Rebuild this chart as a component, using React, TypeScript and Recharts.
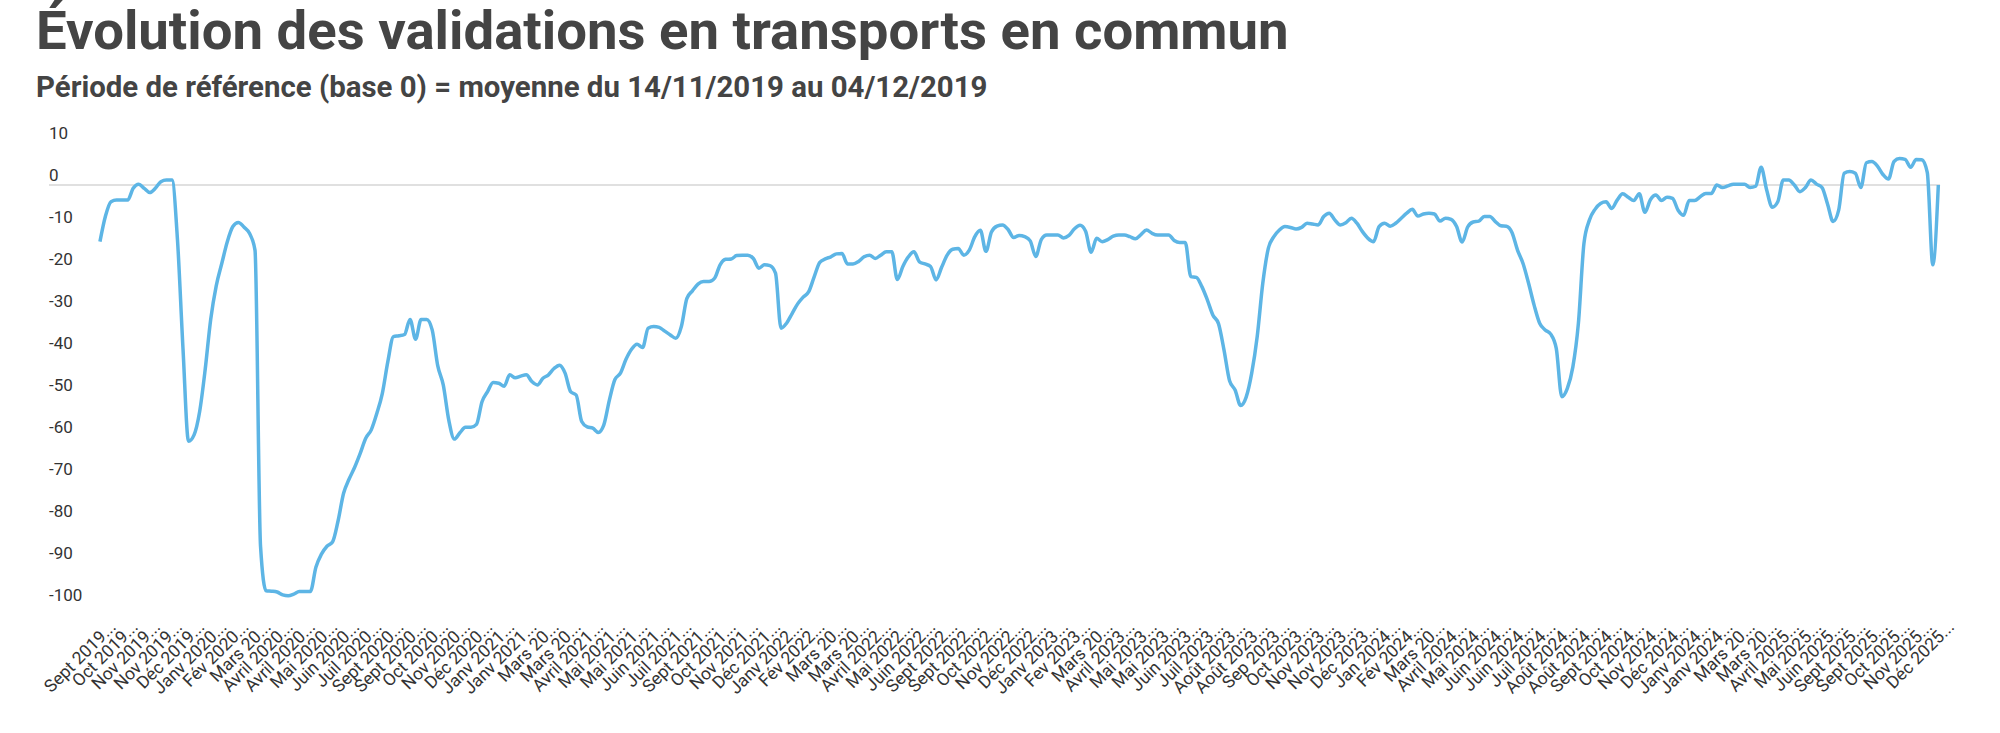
import React from 'react';
import { LineChart, Line, XAxis, YAxis, ReferenceLine } from 'recharts';

// Tick labels, one every 4 points (as shown, truncated)
const tickLabels = [
  'Sept 2019...', 'Oct 2019...', 'Nov 2019...', 'Nov 2019...', 'Déc 2019...', 'Janv 2020...', 'Fév 2020...',
  'Mars 20...', 'Avril 2020...', 'Avril 2020...', 'Mai 2020...', 'Juin 2020...', 'Juil 2020...', 'Sept 2020...',
  'Sept 2020...', 'Oct 2020...', 'Nov 2020...', 'Déc 2020...', 'Janv 2021...', 'Janv 2021...', 'Mars 20...',
  'Mars 20...', 'Avril 2021...', 'Mai 2021...', 'Mai 2021...', 'Juin 2021...', 'Juil 2021...', 'Sept 2021...',
  'Oct 2021...', 'Nov 2021...', 'Déc 2021...', 'Janv 2022...', 'Fév 2022...', 'Mars 20...', 'Mars 20...',
  'Avril 2022...', 'Mai 2022...', 'Juin 2022...', 'Sept 2022...', 'Sept 2022...', 'Oct 2022...', 'Nov 2022...',
  'Déc 2022...', 'Janv 2023...', 'Fev 2023...', 'Mars 20...', 'Avril 2023...', 'Mai 2023...', 'Mai 2023...',
  'Juin 2023...', 'Juil 2023...', 'Août 2023...', 'Août 2023...', 'Sep 2023...', 'Oct 2023...', 'Nov 2023...',
  'Nov 2023...', 'Déc 2023...', 'Jan 2024...', 'Fév 2024...', 'Mars 20...', 'Avril 2024...', 'Mai 2024...',
  'Juin 2024...', 'Juin 2024...', 'Juil 2024...', 'Août 2024...', 'Août 2024...', 'Sept 2024...', 'Oct 2024...',
  'Nov 2024...', 'Déc 2024...', 'Janv 2024...', 'Janv 2024...', 'Mars 20...', 'Mars 20...', 'Avril 2025...',
  'Mai 2025...', 'Juin 2025...', 'Sept 2025...', 'Sept 2025...', 'Oct 2025...', 'Nov 2025...', 'Déc 2025...',
];

// Validations vs reference period, in %
const validations2019 = [
  -13.5, -7.4, -4, -3.6, -3.6, -3.6, -0.8, 0.2, -0.8, -1.8, -0.8, 0.8, 1.2, 1.2,
  -13, -39, -61, -59.5, -54, -44, -32, -24, -18.7, -13.5, -9.9, -8.9, -10, -11.5,
];
const validations2020 = [
  -15.5, -86, -96.6, -96.7, -96.9, -97.6, -97.8, -97.4, -96.8, -96.8, -96.8, -91, -87.9, -86,
  -85, -80, -73.4, -70, -67.2, -63.9, -60.3, -58.3, -54.4, -49.6, -42, -36.1, -35.9, -35.6,
  -32, -36.7, -32, -32, -34.5, -43, -47.6, -56, -60.5, -59, -57.7, -57.7, -57, -51.6,
  -49.2, -47, -47.2, -47.9, -45.2, -45.9, -45.5, -45.2, -46.8, -47.6, -46, -45.2, -43.7, -42.9,
];
const validations2021 = [
  -44.8, -49.2, -50, -56.3, -57.6, -57.9, -58.9, -57.1, -51.2, -46.3, -44.8, -41.5, -39.1, -37.9,
  -38.7, -34.1, -33.7, -33.9, -34.8, -35.7, -36.5, -33.7, -27, -25.2, -23.6, -23, -23, -22.2,
  -19, -17.7, -17.6, -16.8, -16.7, -16.7, -17.5, -19.8, -19, -19.2, -21, -34.1, -32.9, -30.6,
  -28.3, -26.7, -25.4, -21.8, -18.4, -17.6, -17.1, -16.4, -16.3, -18.8, -18.8, -18.2, -17.1, -16.7,
];
const validations2022 = [
  -17.5, -16.7, -15.9, -15.9, -22.5, -19.4, -17.1, -15.9, -18.3, -18.8, -19.4, -22.6, -19.6, -16.7,
  -15.3, -15.1, -16.7, -15.5, -12.3, -10.8, -15.8, -11.2, -9.8, -9.5, -10.6, -12.5, -12, -12.3,
  -13.3, -17, -13, -11.9, -11.9, -11.9, -12.6, -12, -10.4, -9.6, -11, -16, -12.7, -13.5,
  -13, -12.2, -11.9, -11.9, -12.3, -12.8, -11.8, -10.7, -11.5, -11.9, -11.9, -11.9, -13.2, -13.7,
];
const validations2023 = [
  -13.7, -21.8, -22, -24.2, -27.4, -31, -33, -39.3, -46.6, -48.8, -52.5, -50.5, -44.8, -36,
  -23.4, -15.1, -12.3, -10.7, -9.9, -10.1, -10.5, -10.1, -9.1, -9.3, -9.5, -7.5, -6.7, -8.3,
  -9.5, -9, -7.9, -9.1, -11.1, -12.7, -13.5, -9.9, -9.1, -9.8, -9.1, -7.9, -6.7, -5.8,
  -7.4, -6.9, -6.7, -6.9, -8.6, -7.9, -8.2, -9.9, -13.6, -10, -8.8, -8.6, -7.5, -7.5,
];
const validations2024 = [
  -8.7, -9.7, -9.8, -11.3, -15.5, -18.7, -23.4, -28.6, -32.9, -34.5, -35.5, -38.9, -50.4, -48.4,
  -43.3, -32.9, -13.9, -8.3, -5.8, -4.4, -4, -5.6, -3.6, -2.1, -2.9, -3.7, -2.1, -6.5,
  -3.5, -2.4, -3.7, -2.9, -3.2, -6, -7.2, -3.7, -3.7, -2.8, -2, -2, 0, -0.6,
  -0.2, 0.2, 0.2, 0.2, -0.6, -0.3, 4.2, -1.2, -5.3, -4, 1.2, 1.2, 0, -1.6,
];
const validations2025 = [
  -0.6, 1.2, 0.2, -0.6, -4.6, -8.7, -6, 2.8, 3.2, 2.8, -0.6, 5.3, 5.6, 4.5,
  2.5, 1.4, 5.6, 6.3, 6.1, 4.2, 6.1, 6, 3, -19, 0,
];

const values = [
  ...validations2019, ...validations2020, ...validations2021, ...validations2022,
  ...validations2023, ...validations2024, ...validations2025,
];
const data = values.map((v, idx) => ({ idx, v }));
const xTicks = tickLabels.map((_, i) => i * 4);
const yTicks = [10, 0, -10, -20, -30, -40, -50, -60, -70, -80, -90, -100];

const FONT = 'Roboto, "Noto Sans", sans-serif';

const XTick = (props: any) => {
  const { x, payload } = props;
  const ax = x + 17;
  const ay = 628;
  return (
    <text x={ax} y={ay} textAnchor="end" transform={`rotate(-45 ${ax} ${ay})`}
      fontSize={17.5} fill="#333" fontFamily={FONT}>
      {tickLabels[Math.round(payload.value / 4)]}
    </text>
  );
};

const YTick = (props: any) => {
  const { y, payload } = props;
  return (
    <text x={49} y={y - 4.5} textAnchor="start" fontSize={17} fill="#333" fontFamily={FONT}>
      {payload.value}
    </text>
  );
};

const App: React.FC = () => {
  return (
    <div style={{ position: 'absolute', left: 0, top: 0, width: 2000, height: 733, background: '#fff', fontFamily: FONT }}>
      <div style={{ position: 'absolute', left: 36, top: 3, fontSize: 54.5, lineHeight: 1, fontWeight: 700, color: '#444', whiteSpace: 'nowrap' }}>
        Évolution des validations en transports en commun
      </div>
      <div style={{ position: 'absolute', left: 36, top: 73, fontSize: 29.4, lineHeight: 1, fontWeight: 700, color: '#444', whiteSpace: 'nowrap' }}>
        Période de référence (base 0) = moyenne du 14/11/2019 au 04/12/2019
      </div>
      <div style={{ position: 'absolute', left: 0, top: 0 }}>
        <LineChart width={2000} height={733} data={data} margin={{ top: 143, right: 60, bottom: 98, left: 0 }}>
          <XAxis
            dataKey="idx"
            type="number"
            domain={[-9.2, 332.3]}
            ticks={xTicks}
            interval={0}
            height={30}
            axisLine={false}
            tickLine={false}
            tick={(p: any) => <XTick {...p} />}
          />
          <YAxis
            type="number"
            domain={[-100, 10]}
            ticks={yTicks}
            interval={0}
            width={49}
            axisLine={false}
            tickLine={false}
            tick={(p: any) => <YTick {...p} />}
          />
          <ReferenceLine y={0} stroke="#d6d6d6" strokeWidth={1.5} />
          <Line
            type="monotone"
            dataKey="v"
            stroke="#5db5e5"
            strokeWidth={3.5}
            dot={false}
            isAnimationActive={false}
          />
        </LineChart>
      </div>
    </div>
  );
};

export default App;
